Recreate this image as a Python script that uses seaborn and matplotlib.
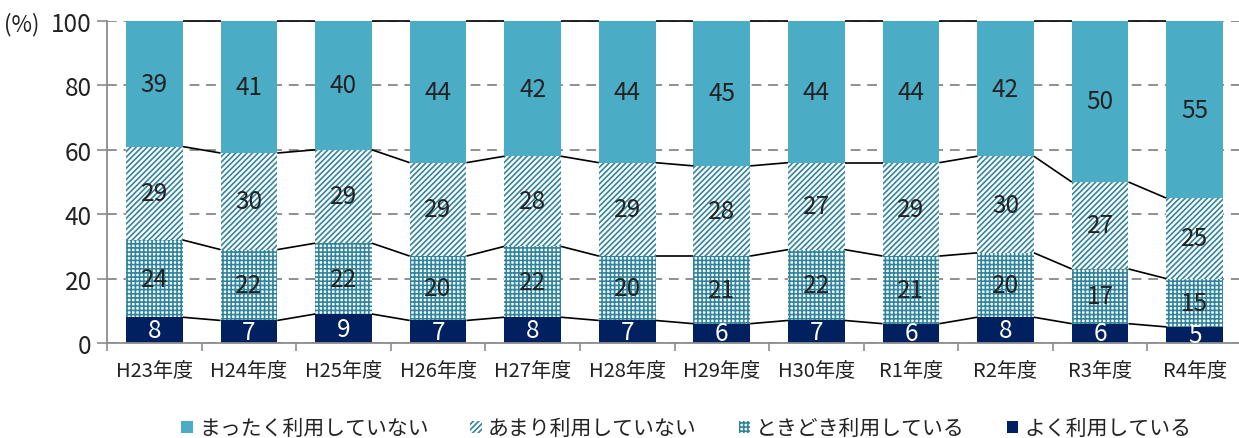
import matplotlib
matplotlib.use("Agg")
import matplotlib.pyplot as plt
import matplotlib.patches as mpatches
import numpy as np
import pandas as pd
import seaborn as sns

# Survey years
years = ["H23年度", "H24年度", "H25年度", "H26年度", "H27年度", "H28年度",
         "H29年度", "H30年度", "R1年度", "R2年度", "R3年度", "R4年度"]

# Share of respondents (%) per answer, bottom to top of each stack
often = [8, 7, 9, 7, 8, 7, 6, 7, 6, 8, 6, 5]             # よく利用している
sometimes = [24, 22, 22, 20, 22, 20, 21, 22, 21, 20, 17, 15]  # ときどき利用している
rarely = [29, 30, 29, 29, 28, 29, 28, 27, 29, 30, 27, 25]     # あまり利用していない
never = [39, 41, 40, 44, 42, 44, 45, 44, 44, 42, 50, 55]      # まったく利用していない

series_names = ["よく利用している", "ときどき利用している", "あまり利用していない", "まったく利用していない"]
series_values = [often, sometimes, rarely, never]

NAVY = "#002060"
TEAL = "#4BACC6"
HATCH_TEAL = "#31859C"
TEXT = "#222222"
AXIS_GRAY = "#8c8c8c"

sns.set_theme(style="white")
plt.rcParams["font.family"] = ["Noto Sans CJK JP", "DejaVu Sans"]
plt.rcParams["hatch.linewidth"] = 1.2

styles = [
    dict(facecolor=NAVY, hatch=None, edgecolor=NAVY),
    dict(facecolor="white", hatch="++++", edgecolor=HATCH_TEAL),
    dict(facecolor="white", hatch="//////", edgecolor=HATCH_TEAL),
    dict(facecolor=TEAL, hatch=None, edgecolor=TEAL),
]

vals = np.array(series_values, dtype=float)
cum = np.cumsum(vals, axis=0)          # upper boundary of each segment
base = cum - vals                      # lower boundary of each segment

fig = plt.figure(figsize=(12.39, 4.39), dpi=100)
ax = fig.add_axes([0.0864, 0.2164, 0.916, 0.7335])

BAR_W = 0.6
df = pd.DataFrame({"year": years})

# Stack by drawing cumulative totals from the top layer down
for k in range(len(series_names) - 1, -1, -1):
    df["value"] = cum[k]
    before = len(ax.patches)
    sns.barplot(data=df, x="year", y="value", order=years, color=styles[k]["facecolor"],
                saturation=1, width=BAR_W, errorbar=None, ax=ax, zorder=2)
    for p in ax.patches[before:]:
        p.set_facecolor(styles[k]["facecolor"])
        p.set_edgecolor(styles[k]["edgecolor"])
        p.set_linewidth(0)
        if styles[k]["hatch"]:
            p.set_hatch(styles[k]["hatch"])

# Series lines joining segment boundaries of neighbouring bars
xs = np.arange(len(years))
for k in range(len(series_names)):
    for i in range(len(years) - 1):
        ax.plot([xs[i] + BAR_W / 2, xs[i + 1] - BAR_W / 2], [cum[k][i], cum[k][i + 1]],
                color="black", lw=1.2, zorder=3, clip_on=False, solid_capstyle="butt")

# Value labels centred in each segment
for k in range(len(series_names)):
    col = "white" if k == 0 else TEXT
    for i in range(len(years)):
        ax.text(xs[i], base[k][i] + vals[k][i] / 2, f"{int(vals[k][i])}",
                ha="center", va="center", fontsize=17.5, color=col, zorder=4)

ax.set_xlim(-0.5, len(years) - 0.5)
ax.set_ylim(0, 100)
ax.set_yticks(np.arange(0, 101, 20))
ax.yaxis.grid(True, linestyle=(0, (5, 3.5)), color="#8f8f8f", lw=1.4, zorder=0)
ax.set_axisbelow(True)
ax.set_xlabel("")
ax.set_ylabel("")

for side in ["top", "right"]:
    ax.spines[side].set_visible(False)
for side in ["left", "bottom"]:
    ax.spines[side].set_color(AXIS_GRAY)
    ax.spines[side].set_linewidth(1.3)

ax.tick_params(axis="y", which="major", left=True, length=7, width=1.2, color=AXIS_GRAY,
               labelsize=17.5, labelcolor=TEXT, pad=4)
ax.set_xticks(xs)
ax.set_xticklabels(years)
ax.set_xticks(np.arange(-0.5, len(years), 1), minor=True)
ax.tick_params(axis="x", which="major", bottom=False, length=0, labelsize=14.5,
               labelcolor=TEXT, pad=12)
ax.tick_params(axis="x", which="minor", bottom=True, length=6, width=1.2, color=AXIS_GRAY)

fig.text(4 / 1239, 1 - 25 / 439, "(%)", ha="left", va="center", fontsize=16, color=TEXT)

# Legend, listed from the top segment down
handles = []
for k in range(len(series_names) - 1, -1, -1):
    st = styles[k]
    handles.append(mpatches.Patch(facecolor=st["facecolor"], edgecolor=st["edgecolor"],
                                  hatch=st["hatch"], linewidth=0, label=series_names[k]))
fig.legend(handles=handles, loc="center", bbox_to_anchor=(0.554, 0.022), ncol=4,
           frameon=False, fontsize=15, handlelength=0.55, handleheight=0.55,
           handletextpad=0.3, columnspacing=2.0, labelcolor=TEXT)

fig.savefig("out.png", dpi=100)
